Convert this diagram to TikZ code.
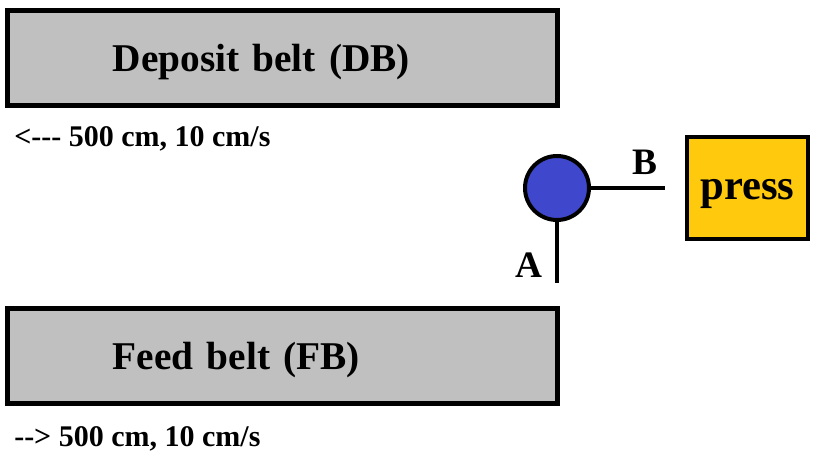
\documentclass[tikz,border=0pt]{standalone}
\usepackage{fontspec}
\setmainfont{Liberation Serif}
\usetikzlibrary{positioning}

\definecolor{beltgray}{RGB}{192,192,192}
\definecolor{pressyellow}{RGB}{255,201,14}
\definecolor{junctionblue}{RGB}{63,72,204}

\begin{document}
\begin{tikzpicture}[x=0.75pt, y=-0.75pt,
	belt/.style={draw, line width=3.75pt, fill=beltgray, minimum width=412.5pt, minimum height=71.25pt,
		inner xsep=79pt, text width=254.5pt, align=left, text height=20pt, text depth=0pt,
		font=\bfseries\fontsize{29.5}{36}\selectfont},
	speed/.style={anchor=base west, inner sep=0pt, font=\bfseries\fontsize{22.5}{26}\selectfont},
	port/.style={anchor=base, inner sep=0pt, font=\bfseries\fontsize{28}{32}\selectfont},
	wire/.style={line width=3pt}]

	% picture frame, in pixels of the original
	\useasboundingbox (0,0) rectangle (819,456);

	% the two belts and their speeds
	\node[belt] (db) at (282.5,58) {Deposit belt (DB)};
	\node[speed] (dbspeed) at (14,147) {<-{}-{}- 500 cm, 10 cm/s};
	\node[belt] (fb) at (282.5,356) {Feed belt (FB)};
	\node[speed] (fbspeed) at (14,447) {-{}-> 500 cm, 10 cm/s};

	% junction and press
	\node[circle, draw, line width=3pt, fill=junctionblue, minimum size=48pt, inner sep=0pt] (junction) at (557,188) {};
	\node[draw, line width=3.5pt, fill=pressyellow, minimum width=90.75pt, minimum height=76.5pt,
		text height=18pt, text depth=0pt, font=\bfseries\fontsize{32}{38}\selectfont] (press) at (747.5,188) {press};

	\coordinate (bend) at (665,188);
	\coordinate (aend) at (557,283);
	\draw[wire] (junction.east) -- (bend);
	\draw[wire] (junction.south) -- (aend);

	\node[port] (b) at (645,175) {B};
	\node[port] (a) at (529,278) {A};

\end{tikzpicture}
\end{document}
